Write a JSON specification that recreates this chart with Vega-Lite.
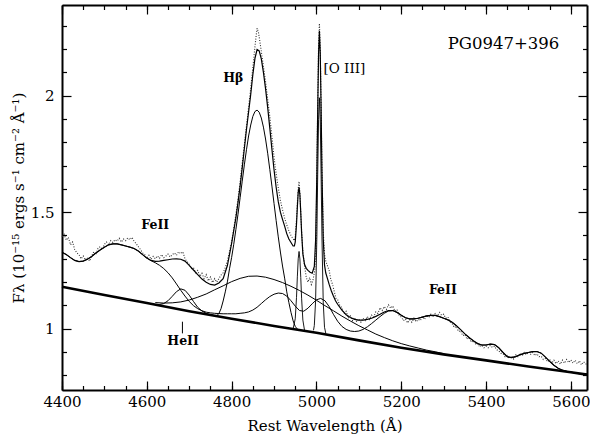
{
"$schema": "https://vega.github.io/schema/vega-lite/v6.json",
"width": 525, "height": 385,
"autosize": {"type": "none"},
"padding": {"left": 62, "top": 5, "right": 3, "bottom": 48},
"background": "white",
"config": {"view": {"stroke": null}},
"datasets": {
"cont": [{"x":4400,"y":1.18},{"x":4500,"y":1.145},{"x":4600,"y":1.11},{"x":4700,"y":1.075},{"x":4800,"y":1.043},{"x":4900,"y":1.012},{"x":5000,"y":0.983},{"x":5100,"y":0.95},{"x":5200,"y":0.918},{"x":5300,"y":0.89},{"x":5400,"y":0.864},{"x":5500,"y":0.838},{"x":5600,"y":0.813},{"x":5638,"y":0.803}],
"feii": [{"x":4400,"y":1.328},{"x":4410,"y":1.318},{"x":4420,"y":1.305},{"x":4430,"y":1.293},{"x":4440,"y":1.288},{"x":4450,"y":1.29},{"x":4460,"y":1.298},{"x":4470,"y":1.31},{"x":4480,"y":1.325},{"x":4490,"y":1.338},{"x":4500,"y":1.35},{"x":4510,"y":1.36},{"x":4520,"y":1.364},{"x":4530,"y":1.364},{"x":4540,"y":1.36},{"x":4550,"y":1.355},{"x":4560,"y":1.35},{"x":4570,"y":1.344},{"x":4580,"y":1.333},{"x":4590,"y":1.318},{"x":4600,"y":1.303},{"x":4610,"y":1.292},{"x":4620,"y":1.283},{"x":4630,"y":1.272},{"x":4640,"y":1.258},{"x":4650,"y":1.24},{"x":4660,"y":1.218},{"x":4670,"y":1.192},{"x":4680,"y":1.165},{"x":4690,"y":1.14},{"x":4700,"y":1.117},{"x":4710,"y":1.099},{"x":4720,"y":1.086},{"x":4730,"y":1.077},{"x":4740,"y":1.071},{"x":4750,"y":1.068},{"x":4760,"y":1.066},{"x":4770,"y":1.065},{"x":4780,"y":1.064},{"x":4790,"y":1.064},{"x":4800,"y":1.064},{"x":4810,"y":1.064},{"x":4820,"y":1.066},{"x":4830,"y":1.068},{"x":4840,"y":1.072},{"x":4850,"y":1.08},{"x":4860,"y":1.092},{"x":4870,"y":1.108},{"x":4880,"y":1.124},{"x":4890,"y":1.138},{"x":4900,"y":1.148},{"x":4910,"y":1.153},{"x":4920,"y":1.151},{"x":4930,"y":1.14},{"x":4940,"y":1.12},{"x":4950,"y":1.097},{"x":4960,"y":1.078},{"x":4970,"y":1.075},{"x":4980,"y":1.088},{"x":4990,"y":1.107},{"x":5000,"y":1.124},{"x":5010,"y":1.13},{"x":5020,"y":1.12},{"x":5030,"y":1.095},{"x":5040,"y":1.062},{"x":5050,"y":1.032},{"x":5060,"y":1.01},{"x":5070,"y":0.997},{"x":5080,"y":0.99},{"x":5090,"y":0.988},{"x":5100,"y":0.99},{"x":5110,"y":0.997},{"x":5120,"y":1.008},{"x":5130,"y":1.022},{"x":5140,"y":1.037},{"x":5150,"y":1.052},{"x":5160,"y":1.066},{"x":5170,"y":1.076},{"x":5180,"y":1.078},{"x":5190,"y":1.07},{"x":5200,"y":1.058},{"x":5210,"y":1.047},{"x":5220,"y":1.042},{"x":5230,"y":1.042},{"x":5240,"y":1.045},{"x":5250,"y":1.05},{"x":5260,"y":1.055},{"x":5270,"y":1.057},{"x":5280,"y":1.057},{"x":5290,"y":1.052},{"x":5300,"y":1.045},{"x":5310,"y":1.038},{"x":5320,"y":1.028},{"x":5330,"y":1.013},{"x":5340,"y":0.996},{"x":5350,"y":0.978},{"x":5360,"y":0.962},{"x":5370,"y":0.948},{"x":5380,"y":0.936},{"x":5390,"y":0.93},{"x":5400,"y":0.93},{"x":5410,"y":0.934},{"x":5420,"y":0.932},{"x":5430,"y":0.918},{"x":5440,"y":0.898},{"x":5450,"y":0.88},{"x":5460,"y":0.876},{"x":5470,"y":0.88},{"x":5480,"y":0.888},{"x":5490,"y":0.894},{"x":5500,"y":0.898},{"x":5510,"y":0.902},{"x":5520,"y":0.902},{"x":5530,"y":0.895},{"x":5540,"y":0.878},{"x":5550,"y":0.86},{"x":5560,"y":0.843},{"x":5570,"y":0.83},{"x":5580,"y":0.822},{"x":5590,"y":0.817},{"x":5600,"y":0.814},{"x":5610,"y":0.81},{"x":5620,"y":0.807},{"x":5638,"y":0.804}],
"heii": [{"x":4615,"y":1.105},{"x":4620,"y":1.104},{"x":4630,"y":1.104},{"x":4640,"y":1.108},{"x":4650,"y":1.12},{"x":4660,"y":1.139},{"x":4670,"y":1.159},{"x":4680,"y":1.171},{"x":4690,"y":1.165},{"x":4700,"y":1.144},{"x":4710,"y":1.117},{"x":4720,"y":1.092},{"x":4730,"y":1.076},{"x":4740,"y":1.066},{"x":4750,"y":1.06},{"x":4760,"y":1.056}],
"broad": [{"x":4620,"y":1.112},{"x":4640,"y":1.11},{"x":4660,"y":1.111},{"x":4680,"y":1.115},{"x":4700,"y":1.123},{"x":4720,"y":1.135},{"x":4740,"y":1.149},{"x":4760,"y":1.167},{"x":4780,"y":1.184},{"x":4800,"y":1.202},{"x":4820,"y":1.216},{"x":4840,"y":1.225},{"x":4860,"y":1.226},{"x":4880,"y":1.221},{"x":4900,"y":1.211},{"x":4920,"y":1.198},{"x":4940,"y":1.182},{"x":4960,"y":1.164},{"x":4980,"y":1.144},{"x":5000,"y":1.122},{"x":5020,"y":1.099},{"x":5040,"y":1.077},{"x":5060,"y":1.054},{"x":5080,"y":1.033},{"x":5100,"y":1.013},{"x":5120,"y":0.995},{"x":5140,"y":0.977},{"x":5160,"y":0.962},{"x":5180,"y":0.948},{"x":5200,"y":0.936},{"x":5220,"y":0.926},{"x":5240,"y":0.917},{"x":5260,"y":0.908},{"x":5280,"y":0.901},{"x":5300,"y":0.893}],
"hb": [{"x":4760,"y":1.056},{"x":4765,"y":1.056},{"x":4770,"y":1.065},{"x":4775,"y":1.086},{"x":4780,"y":1.119},{"x":4785,"y":1.158},{"x":4790,"y":1.201},{"x":4795,"y":1.257},{"x":4800,"y":1.306},{"x":4805,"y":1.362},{"x":4810,"y":1.425},{"x":4815,"y":1.491},{"x":4820,"y":1.562},{"x":4825,"y":1.633},{"x":4830,"y":1.703},{"x":4835,"y":1.768},{"x":4840,"y":1.827},{"x":4845,"y":1.874},{"x":4850,"y":1.911},{"x":4855,"y":1.932},{"x":4860,"y":1.938},{"x":4865,"y":1.929},{"x":4870,"y":1.904},{"x":4875,"y":1.865},{"x":4880,"y":1.814},{"x":4885,"y":1.753},{"x":4890,"y":1.684},{"x":4895,"y":1.612},{"x":4900,"y":1.537},{"x":4905,"y":1.464},{"x":4910,"y":1.394},{"x":4915,"y":1.329},{"x":4920,"y":1.269},{"x":4925,"y":1.217},{"x":4930,"y":1.158},{"x":4935,"y":1.112},{"x":4940,"y":1.07},{"x":4945,"y":1.034},{"x":4950,"y":1.01},{"x":4955,"y":0.998},{"x":4960,"y":0.995}],
"o1": [{"x":4945,"y":0.9995},{"x":4950,"y":1.0425},{"x":4953,"y":1.1345},{"x":4955,"y":1.2225},{"x":4957,"y":1.3},{"x":4959,"y":1.3315},{"x":4961,"y":1.299},{"x":4963,"y":1.2204},{"x":4965,"y":1.131},{"x":4968,"y":1.037},{"x":4972,"y":0.992}],
"o2": [{"x":4993,"y":0.993},{"x":4995,"y":1.0135},{"x":4998,"y":1.1196},{"x":5001,"y":1.3977},{"x":5003,"y":1.6631},{"x":5005,"y":1.8965},{"x":5007,"y":1.9909},{"x":5009,"y":1.8953},{"x":5011,"y":1.6607},{"x":5013,"y":1.3941},{"x":5016,"y":1.1142},{"x":5019,"y":1.0063},{"x":5022,"y":0.9804}],
"tot": [{"x":4400,"y":1.328},{"x":4410,"y":1.318},{"x":4420,"y":1.305},{"x":4430,"y":1.293},{"x":4440,"y":1.288},{"x":4450,"y":1.29},{"x":4460,"y":1.298},{"x":4470,"y":1.31},{"x":4480,"y":1.325},{"x":4490,"y":1.338},{"x":4500,"y":1.35},{"x":4510,"y":1.36},{"x":4520,"y":1.364},{"x":4530,"y":1.364},{"x":4540,"y":1.36},{"x":4550,"y":1.355},{"x":4560,"y":1.35},{"x":4570,"y":1.344},{"x":4580,"y":1.333},{"x":4590,"y":1.318},{"x":4600,"y":1.303},{"x":4610,"y":1.293},{"x":4620,"y":1.289},{"x":4630,"y":1.29},{"x":4640,"y":1.293},{"x":4650,"y":1.296},{"x":4660,"y":1.299},{"x":4670,"y":1.3},{"x":4680,"y":1.298},{"x":4690,"y":1.29},{"x":4700,"y":1.272},{"x":4710,"y":1.252},{"x":4720,"y":1.232},{"x":4730,"y":1.213},{"x":4740,"y":1.199},{"x":4750,"y":1.19},{"x":4760,"y":1.187},{"x":4770,"y":1.196},{"x":4780,"y":1.215},{"x":4790,"y":1.271},{"x":4800,"y":1.366},{"x":4810,"y":1.475},{"x":4815,"y":1.541},{"x":4820,"y":1.612},{"x":4825,"y":1.69},{"x":4830,"y":1.773},{"x":4835,"y":1.855},{"x":4840,"y":1.93},{"x":4845,"y":2.005},{"x":4850,"y":2.09},{"x":4855,"y":2.16},{"x":4860,"y":2.198},{"x":4865,"y":2.192},{"x":4870,"y":2.158},{"x":4875,"y":2.1},{"x":4880,"y":2.03},{"x":4885,"y":1.95},{"x":4890,"y":1.862},{"x":4895,"y":1.77},{"x":4900,"y":1.682},{"x":4905,"y":1.607},{"x":4910,"y":1.545},{"x":4915,"y":1.5},{"x":4920,"y":1.469},{"x":4925,"y":1.44},{"x":4930,"y":1.408},{"x":4935,"y":1.385},{"x":4940,"y":1.37},{"x":4945,"y":1.355},{"x":4948,"y":1.355},{"x":4950,"y":1.372},{"x":4953,"y":1.449},{"x":4955,"y":1.522},{"x":4957,"y":1.585},{"x":4959,"y":1.607},{"x":4961,"y":1.574},{"x":4963,"y":1.498},{"x":4965,"y":1.413},{"x":4968,"y":1.321},{"x":4972,"y":1.275},{"x":4976,"y":1.259},{"x":4980,"y":1.25},{"x":4985,"y":1.242},{"x":4990,"y":1.238},{"x":4995,"y":1.267},{"x":4998,"y":1.378},{"x":5001,"y":1.665},{"x":5003,"y":1.937},{"x":5005,"y":2.178},{"x":5007,"y":2.277},{"x":5009,"y":2.182},{"x":5011,"y":1.944},{"x":5013,"y":1.673},{"x":5016,"y":1.388},{"x":5019,"y":1.274},{"x":5022,"y":1.239},{"x":5026,"y":1.215},{"x":5030,"y":1.19},{"x":5035,"y":1.163},{"x":5040,"y":1.14},{"x":5045,"y":1.12},{"x":5050,"y":1.105},{"x":5060,"y":1.08},{"x":5070,"y":1.06},{"x":5080,"y":1.048},{"x":5090,"y":1.04},{"x":5100,"y":1.037},{"x":5110,"y":1.037},{"x":5120,"y":1.04},{"x":5130,"y":1.045},{"x":5140,"y":1.053},{"x":5150,"y":1.062},{"x":5160,"y":1.072},{"x":5170,"y":1.078},{"x":5180,"y":1.078},{"x":5190,"y":1.07},{"x":5200,"y":1.058},{"x":5210,"y":1.047},{"x":5220,"y":1.042},{"x":5230,"y":1.042},{"x":5240,"y":1.045},{"x":5250,"y":1.05},{"x":5260,"y":1.055},{"x":5270,"y":1.057},{"x":5280,"y":1.057},{"x":5290,"y":1.052},{"x":5300,"y":1.045},{"x":5310,"y":1.038},{"x":5320,"y":1.028},{"x":5330,"y":1.013},{"x":5340,"y":0.996},{"x":5350,"y":0.978},{"x":5360,"y":0.962},{"x":5370,"y":0.948},{"x":5380,"y":0.936},{"x":5390,"y":0.93},{"x":5400,"y":0.93},{"x":5410,"y":0.934},{"x":5420,"y":0.932},{"x":5430,"y":0.918},{"x":5440,"y":0.898},{"x":5450,"y":0.88},{"x":5460,"y":0.876},{"x":5470,"y":0.88},{"x":5480,"y":0.888},{"x":5490,"y":0.894},{"x":5500,"y":0.898},{"x":5510,"y":0.902},{"x":5520,"y":0.902},{"x":5530,"y":0.895},{"x":5540,"y":0.878},{"x":5550,"y":0.86},{"x":5560,"y":0.843},{"x":5570,"y":0.83},{"x":5580,"y":0.822},{"x":5590,"y":0.817},{"x":5600,"y":0.814},{"x":5610,"y":0.81},{"x":5620,"y":0.807},{"x":5638,"y":0.804}],
"obs": [{"x":4400,"y":1.395},{"x":4405,"y":1.405},{"x":4410,"y":1.38},{"x":4415,"y":1.392},{"x":4420,"y":1.36},{"x":4425,"y":1.372},{"x":4430,"y":1.34},{"x":4435,"y":1.325},{"x":4440,"y":1.318},{"x":4445,"y":1.3},{"x":4450,"y":1.312},{"x":4455,"y":1.295},{"x":4460,"y":1.305},{"x":4465,"y":1.29},{"x":4470,"y":1.312},{"x":4475,"y":1.33},{"x":4480,"y":1.318},{"x":4485,"y":1.345},{"x":4490,"y":1.352},{"x":4495,"y":1.34},{"x":4500,"y":1.362},{"x":4505,"y":1.372},{"x":4510,"y":1.36},{"x":4515,"y":1.378},{"x":4520,"y":1.37},{"x":4525,"y":1.382},{"x":4530,"y":1.376},{"x":4535,"y":1.388},{"x":4540,"y":1.372},{"x":4545,"y":1.385},{"x":4550,"y":1.378},{"x":4555,"y":1.39},{"x":4560,"y":1.382},{"x":4565,"y":1.392},{"x":4570,"y":1.375},{"x":4575,"y":1.365},{"x":4580,"y":1.352},{"x":4585,"y":1.34},{"x":4590,"y":1.325},{"x":4595,"y":1.318},{"x":4600,"y":1.302},{"x":4605,"y":1.315},{"x":4610,"y":1.298},{"x":4615,"y":1.31},{"x":4620,"y":1.3},{"x":4625,"y":1.312},{"x":4630,"y":1.302},{"x":4635,"y":1.318},{"x":4640,"y":1.305},{"x":4645,"y":1.312},{"x":4650,"y":1.32},{"x":4655,"y":1.308},{"x":4660,"y":1.318},{"x":4665,"y":1.325},{"x":4670,"y":1.315},{"x":4675,"y":1.33},{"x":4680,"y":1.322},{"x":4685,"y":1.33},{"x":4690,"y":1.3},{"x":4695,"y":1.288},{"x":4700,"y":1.275},{"x":4705,"y":1.258},{"x":4710,"y":1.262},{"x":4715,"y":1.24},{"x":4720,"y":1.25},{"x":4725,"y":1.225},{"x":4730,"y":1.238},{"x":4735,"y":1.215},{"x":4740,"y":1.232},{"x":4745,"y":1.205},{"x":4750,"y":1.222},{"x":4755,"y":1.198},{"x":4760,"y":1.215},{"x":4765,"y":1.2},{"x":4770,"y":1.215},{"x":4775,"y":1.23},{"x":4780,"y":1.24},{"x":4785,"y":1.262},{"x":4790,"y":1.29},{"x":4795,"y":1.33},{"x":4800,"y":1.375},{"x":4805,"y":1.43},{"x":4810,"y":1.49},{"x":4815,"y":1.555},{"x":4820,"y":1.63},{"x":4825,"y":1.71},{"x":4830,"y":1.79},{"x":4835,"y":1.87},{"x":4840,"y":1.95},{"x":4845,"y":2.03},{"x":4850,"y":2.12},{"x":4855,"y":2.21},{"x":4858,"y":2.26},{"x":4860,"y":2.289},{"x":4863,"y":2.275},{"x":4866,"y":2.24},{"x":4870,"y":2.19},{"x":4875,"y":2.125},{"x":4880,"y":2.06},{"x":4885,"y":1.985},{"x":4890,"y":1.91},{"x":4895,"y":1.825},{"x":4900,"y":1.735},{"x":4905,"y":1.665},{"x":4910,"y":1.605},{"x":4915,"y":1.55},{"x":4920,"y":1.51},{"x":4925,"y":1.475},{"x":4930,"y":1.445},{"x":4935,"y":1.42},{"x":4940,"y":1.4},{"x":4945,"y":1.385},{"x":4948,"y":1.378},{"x":4950,"y":1.395},{"x":4953,"y":1.47},{"x":4955,"y":1.54},{"x":4957,"y":1.6},{"x":4959,"y":1.632},{"x":4961,"y":1.58},{"x":4963,"y":1.5},{"x":4965,"y":1.42},{"x":4968,"y":1.33},{"x":4972,"y":1.27},{"x":4976,"y":1.22},{"x":4980,"y":1.2},{"x":4984,"y":1.22},{"x":4988,"y":1.19},{"x":4992,"y":1.21},{"x":4996,"y":1.25},{"x":4999,"y":1.36},{"x":5001,"y":1.68},{"x":5003,"y":1.96},{"x":5005,"y":2.22},{"x":5007,"y":2.31},{"x":5009,"y":2.2},{"x":5011,"y":1.95},{"x":5013,"y":1.68},{"x":5016,"y":1.42},{"x":5019,"y":1.32},{"x":5022,"y":1.29},{"x":5026,"y":1.27},{"x":5030,"y":1.25},{"x":5034,"y":1.21},{"x":5038,"y":1.19},{"x":5042,"y":1.16},{"x":5046,"y":1.13},{"x":5050,"y":1.125},{"x":5055,"y":1.1},{"x":5060,"y":1.09},{"x":5065,"y":1.065},{"x":5070,"y":1.075},{"x":5075,"y":1.045},{"x":5080,"y":1.055},{"x":5085,"y":1.035},{"x":5090,"y":1.048},{"x":5095,"y":1.03},{"x":5100,"y":1.042},{"x":5105,"y":1.028},{"x":5110,"y":1.045},{"x":5115,"y":1.035},{"x":5120,"y":1.052},{"x":5125,"y":1.04},{"x":5130,"y":1.058},{"x":5135,"y":1.05},{"x":5140,"y":1.072},{"x":5145,"y":1.065},{"x":5150,"y":1.09},{"x":5155,"y":1.078},{"x":5160,"y":1.095},{"x":5165,"y":1.083},{"x":5170,"y":1.102},{"x":5175,"y":1.088},{"x":5180,"y":1.098},{"x":5185,"y":1.075},{"x":5190,"y":1.082},{"x":5195,"y":1.058},{"x":5200,"y":1.05},{"x":5205,"y":1.035},{"x":5210,"y":1.042},{"x":5215,"y":1.025},{"x":5220,"y":1.038},{"x":5225,"y":1.028},{"x":5230,"y":1.045},{"x":5235,"y":1.03},{"x":5240,"y":1.04},{"x":5245,"y":1.035},{"x":5250,"y":1.052},{"x":5255,"y":1.04},{"x":5260,"y":1.058},{"x":5265,"y":1.048},{"x":5270,"y":1.062},{"x":5275,"y":1.05},{"x":5280,"y":1.065},{"x":5285,"y":1.055},{"x":5290,"y":1.07},{"x":5295,"y":1.058},{"x":5300,"y":1.062},{"x":5305,"y":1.045},{"x":5310,"y":1.05},{"x":5315,"y":1.03},{"x":5320,"y":1.022},{"x":5325,"y":1.005},{"x":5330,"y":1.01},{"x":5335,"y":0.988},{"x":5340,"y":0.992},{"x":5345,"y":0.97},{"x":5350,"y":0.975},{"x":5355,"y":0.955},{"x":5360,"y":0.962},{"x":5365,"y":0.942},{"x":5370,"y":0.948},{"x":5375,"y":0.935},{"x":5380,"y":0.938},{"x":5385,"y":0.922},{"x":5390,"y":0.93},{"x":5395,"y":0.918},{"x":5400,"y":0.925},{"x":5405,"y":0.918},{"x":5410,"y":0.928},{"x":5415,"y":0.92},{"x":5420,"y":0.925},{"x":5425,"y":0.91},{"x":5430,"y":0.905},{"x":5435,"y":0.895},{"x":5440,"y":0.893},{"x":5445,"y":0.88},{"x":5450,"y":0.885},{"x":5455,"y":0.872},{"x":5460,"y":0.882},{"x":5465,"y":0.87},{"x":5470,"y":0.888},{"x":5475,"y":0.88},{"x":5480,"y":0.895},{"x":5485,"y":0.885},{"x":5490,"y":0.898},{"x":5495,"y":0.888},{"x":5500,"y":0.9},{"x":5505,"y":0.89},{"x":5510,"y":0.898},{"x":5515,"y":0.885},{"x":5520,"y":0.892},{"x":5525,"y":0.88},{"x":5530,"y":0.882},{"x":5535,"y":0.868},{"x":5540,"y":0.872},{"x":5545,"y":0.858},{"x":5550,"y":0.868},{"x":5555,"y":0.852},{"x":5560,"y":0.865},{"x":5565,"y":0.85},{"x":5570,"y":0.862},{"x":5575,"y":0.848},{"x":5580,"y":0.865},{"x":5585,"y":0.852},{"x":5590,"y":0.868},{"x":5595,"y":0.855},{"x":5600,"y":0.866},{"x":5605,"y":0.852},{"x":5610,"y":0.865},{"x":5615,"y":0.85},{"x":5620,"y":0.862},{"x":5625,"y":0.845},{"x":5630,"y":0.858},{"x":5638,"y":0.845}],
"boldlab": [{"x":4804,"y":2.077,"t":"Hβ"},{"x":4620,"y":1.445,"t":"FeII"},{"x":5298,"y":1.166,"t":"FeII"},{"x":4685.5,"y":0.947,"t":"HeII"}],
"oiiilab": [{"x":5066,"y":2.113,"t":"[O III]"}],
"namelab": [{"x":5441,"y":2.221,"t":"PG0947+396"}],
"tick": [{"x":4684,"y":0.98,"y2":1.03}]
},
"resolve": {"axis": {"x": "independent", "y": "independent"}},
"layer": [
{"data": {"name": "obs"}, "mark": {"type": "line", "color": "#333", "strokeWidth": 1.1, "strokeDash": [1, 1.6]},
 "encoding": {
  "x": {"field": "x", "type": "quantitative", "scale": {"domain": [4400, 5638], "nice": false, "zero": false},
        "axis": {"orient": "top", "values": [4400,4450,4500,4550,4600,4650,4700,4750,4800,4850,4900,4950,5000,5050,5100,5150,5200,5250,5300,5350,5400,5450,5500,5550,5600], "tickSize": -4.5, "tickColor": "black", "tickWidth": 1.2, "labels": false, "domain": false, "grid": false, "title": null}},
  "y": {"field": "y", "type": "quantitative", "scale": {"domain": [0.737, 2.389], "nice": false, "zero": false},
        "axis": {"orient": "right", "values": [0.8,0.9,1.1,1.2,1.3,1.4,1.6,1.7,1.8,1.9,2.1,2.2,2.3], "tickSize": -4.5, "tickColor": "black", "tickWidth": 1.2, "labels": false, "domain": false, "grid": false, "title": null}}}},
{"data": {"name": "feii"}, "mark": {"type": "line", "color": "black", "strokeWidth": 1},
 "encoding": {
  "x": {"field": "x", "type": "quantitative", "scale": {"domain": [4400, 5638], "nice": false, "zero": false},
        "axis": {"orient": "bottom", "values": [4400,4450,4500,4550,4600,4650,4700,4750,4800,4850,4900,4950,5000,5050,5100,5150,5200,5250,5300,5350,5400,5450,5500,5550,5600], "tickSize": -4.5, "tickColor": "black", "tickWidth": 1.2, "labels": false, "domain": false, "grid": false, "title": null}},
  "y": {"field": "y", "type": "quantitative", "scale": {"domain": [0.737, 2.389], "nice": false, "zero": false},
        "axis": {"orient": "left", "values": [0.8,0.9,1.1,1.2,1.3,1.4,1.6,1.7,1.8,1.9,2.1,2.2,2.3], "tickSize": -4.5, "tickColor": "black", "tickWidth": 1.2, "labels": false, "domain": false, "grid": false, "title": null}}}},
{"data": {"name": "heii"}, "mark": {"type": "line", "color": "black", "strokeWidth": 1},
 "encoding": {"x": {"field": "x", "type": "quantitative", "scale": {"domain": [4400, 5638], "nice": false, "zero": false}, "axis": null},
  "y": {"field": "y", "type": "quantitative", "scale": {"domain": [0.737, 2.389], "nice": false, "zero": false}, "axis": null}}},
{"data": {"name": "broad"}, "mark": {"type": "line", "color": "black", "strokeWidth": 1},
 "encoding": {"x": {"field": "x", "type": "quantitative", "scale": {"domain": [4400, 5638], "nice": false, "zero": false}, "axis": null},
  "y": {"field": "y", "type": "quantitative", "scale": {"domain": [0.737, 2.389], "nice": false, "zero": false}, "axis": null}}},
{"data": {"name": "hb"}, "mark": {"type": "line", "color": "black", "strokeWidth": 1},
 "encoding": {"x": {"field": "x", "type": "quantitative", "scale": {"domain": [4400, 5638], "nice": false, "zero": false}, "axis": null},
  "y": {"field": "y", "type": "quantitative", "scale": {"domain": [0.737, 2.389], "nice": false, "zero": false}, "axis": null}}},
{"data": {"name": "o1"}, "mark": {"type": "line", "color": "black", "strokeWidth": 0.9},
 "encoding": {"x": {"field": "x", "type": "quantitative", "scale": {"domain": [4400, 5638], "nice": false, "zero": false}, "axis": null},
  "y": {"field": "y", "type": "quantitative", "scale": {"domain": [0.737, 2.389], "nice": false, "zero": false}, "axis": null}}},
{"data": {"name": "o2"}, "mark": {"type": "line", "color": "black", "strokeWidth": 0.9},
 "encoding": {"x": {"field": "x", "type": "quantitative", "scale": {"domain": [4400, 5638], "nice": false, "zero": false}, "axis": null},
  "y": {"field": "y", "type": "quantitative", "scale": {"domain": [0.737, 2.389], "nice": false, "zero": false}, "axis": null}}},
{"data": {"name": "tot"}, "mark": {"type": "line", "color": "black", "strokeWidth": 1.2},
 "encoding": {
  "x": {"field": "x", "type": "quantitative", "scale": {"domain": [4400, 5638], "nice": false, "zero": false},
        "axis": {"orient": "top", "values": [4400,4600,4800,5000,5200,5400,5600], "tickSize": -9, "tickColor": "black", "tickWidth": 1.2, "labels": false, "domain": true, "domainColor": "black", "domainWidth": 2, "grid": false, "title": null}},
  "y": {"field": "y", "type": "quantitative", "scale": {"domain": [0.737, 2.389], "nice": false, "zero": false},
        "axis": {"orient": "right", "values": [1, 1.5, 2], "tickSize": -9, "tickColor": "black", "tickWidth": 1.2, "labels": false, "domain": true, "domainColor": "black", "domainWidth": 2, "grid": false, "title": null}}}},
{"data": {"name": "cont"}, "mark": {"type": "line", "color": "black", "strokeWidth": 2.6},
 "encoding": {
  "x": {"field": "x", "type": "quantitative", "scale": {"domain": [4400, 5638], "nice": false, "zero": false},
        "axis": {"orient": "bottom", "values": [4400,4600,4800,5000,5200,5400,5600], "format": "d", "tickSize": -9, "tickColor": "black", "tickWidth": 1.2, "domain": true, "domainColor": "black", "domainWidth": 2, "grid": false, "labelFlush": false, "labelOverlap": false, "labelFont": "DejaVu Serif", "labelFontSize": 15, "labelColor": "black", "labelPadding": 13, "title": "Rest Wavelength (Å)", "titleFont": "DejaVu Serif", "titleFontSize": 15, "titleFontWeight": "normal", "titleColor": "black", "titlePadding": 9}},
  "y": {"field": "y", "type": "quantitative", "scale": {"domain": [0.737, 2.389], "nice": false, "zero": false},
        "axis": {"orient": "left", "values": [1, 1.5, 2], "format": "~g", "tickSize": -9, "tickColor": "black", "tickWidth": 1.2, "domain": true, "domainColor": "black", "domainWidth": 2, "grid": false, "labelFlush": false, "labelOverlap": false, "labelFont": "DejaVu Serif", "labelFontSize": 15, "labelColor": "black", "labelPadding": 17, "title": "Fλ (10⁻¹⁵ ergs s⁻¹ cm⁻² Å⁻¹)", "titleFont": "DejaVu Serif", "titleFontSize": 15, "titleFontWeight": "normal", "titleColor": "black", "titlePadding": 4}}}},
{"data": {"name": "tick"}, "mark": {"type": "rule", "color": "black", "strokeWidth": 1},
 "encoding": {"x": {"field": "x", "type": "quantitative", "scale": {"domain": [4400, 5638], "nice": false, "zero": false}, "axis": null},
  "y": {"field": "y", "type": "quantitative", "scale": {"domain": [0.737, 2.389], "nice": false, "zero": false}, "axis": null},
  "y2": {"field": "y2"}}},
{"data": {"name": "boldlab"}, "mark": {"type": "text", "font": "DejaVu Serif", "fontSize": 12.5, "fontWeight": "bold", "color": "black", "align": "center", "baseline": "middle"},
 "encoding": {"x": {"field": "x", "type": "quantitative", "scale": {"domain": [4400, 5638], "nice": false, "zero": false}, "axis": null},
  "y": {"field": "y", "type": "quantitative", "scale": {"domain": [0.737, 2.389], "nice": false, "zero": false}, "axis": null},
  "text": {"field": "t"}}},
{"data": {"name": "oiiilab"}, "mark": {"type": "text", "font": "DejaVu Serif", "fontSize": 13.5, "color": "black", "align": "center", "baseline": "middle"},
 "encoding": {"x": {"field": "x", "type": "quantitative", "scale": {"domain": [4400, 5638], "nice": false, "zero": false}, "axis": null},
  "y": {"field": "y", "type": "quantitative", "scale": {"domain": [0.737, 2.389], "nice": false, "zero": false}, "axis": null},
  "text": {"field": "t"}}},
{"data": {"name": "namelab"}, "mark": {"type": "text", "font": "DejaVu Serif", "fontSize": 16.5, "color": "black", "align": "center", "baseline": "middle"},
 "encoding": {"x": {"field": "x", "type": "quantitative", "scale": {"domain": [4400, 5638], "nice": false, "zero": false}, "axis": null},
  "y": {"field": "y", "type": "quantitative", "scale": {"domain": [0.737, 2.389], "nice": false, "zero": false}, "axis": null},
  "text": {"field": "t"}}}
]
}
